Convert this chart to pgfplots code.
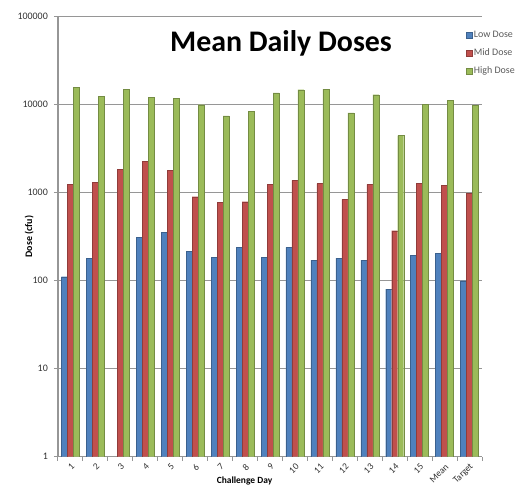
\documentclass[border=0pt]{standalone}
\usepackage{pgfplots}
\pgfplotsset{compat=1.18}
\usepackage{fontspec}
\setmainfont{Carlito}
\definecolor{lowc}{RGB}{79,129,189}
\definecolor{midc}{RGB}{192,80,77}
\definecolor{highc}{RGB}{155,187,89}
\definecolor{gridc}{RGB}{150,150,150}
\definecolor{txtc}{RGB}{50,50,50}
\definecolor{legc}{RGB}{90,90,90}
\begin{document}
\begin{tikzpicture}
\begin{axis}[
  at={(0,0)}, anchor=south west,
  scale only axis, width=424bp, height=440bp,
  ymode=log, ymin=1, ymax=100000,
  xmin=-0.5, xmax=16.5,
  ybar=0pt, bar width=6bp,
  xtick={0,1,2,3,4,5,6,7,8,9,10,11,12,13,14,15,16},
  xticklabels={1,2,3,4,5,6,7,8,9,10,11,12,13,14,15,Mean,Target},
  minor xtick={-0.5,0.5,1.5,2.5,3.5,4.5,5.5,6.5,7.5,8.5,9.5,10.5,11.5,12.5,13.5,14.5,15.5,16.5},
  major x tick style={draw=none},
  minor x tick style={draw=gridc, line width=1bp},
  minor tick length=4bp,
  ytick={1,10,100,1000,10000,100000},
  yticklabels={1,10,100,1000,10000,100000},
  yminorticks=false,
  y tick style={draw=gridc, line width=1bp},
  major tick length=4bp,
  tick align=outside,
  axis x line*=bottom, axis y line*=left,
  axis line style={draw=gridc, line width=1.2bp, -},
  ymajorgrids, grid style={draw=gridc, line width=1.2bp},
  xticklabel style={rotate=45, anchor=east, font=\fontsize{9.5}{10}\selectfont, text=txtc, inner sep=0.5bp, yshift=-5bp, xshift=-1bp},
  yticklabel style={font=\fontsize{10}{11}\selectfont, text=txtc, inner sep=2bp, xshift=-4bp},
  ylabel={\textbf{Dose (cfu)}},
  ylabel style={at={(axis description cs:-0.068,0.5)}, anchor=center, font=\fontsize{10}{11}\selectfont},
  xlabel={\textbf{Challenge Day}},
  xlabel style={at={(axis description cs:0.44,-0.056)}, anchor=center, font=\fontsize{9.5}{10}\selectfont},
  legend style={at={(axis description cs:0.962,0.972)}, anchor=north west, draw=none, fill=none,
    font=\fontsize{10}{11}\selectfont, text=legc, row sep=7bp, inner sep=0pt,
    nodes={inner sep=1.5bp}},
  legend cell align=left,
  legend image code/.code={\fill[#1] (0bp,-3bp) rectangle (6bp,3bp);},
]
\addplot[fill=lowc, draw=lowc!75!black, line width=0.3bp] coordinates {
 (0,111) (1,179) (3,313) (4,357) (5,217) (6,183) (7,241) (8,184) (9,239)
 (10,171) (11,181) (12,171) (13,80) (14,195) (15,203) (16,100)};
\addplot[fill=midc, draw=midc!75!black, line width=0.3bp] coordinates {
 (0,1245) (1,1310) (2,1845) (3,2290) (4,1810) (5,900) (6,778) (7,790) (8,1240)
 (9,1380) (10,1270) (11,840) (12,1240) (13,370) (14,1270) (15,1220) (16,980)};
\addplot[fill=highc, draw=highc!75!black, line width=0.3bp] coordinates {
 (0,15800) (1,12400) (2,15000) (3,12100) (4,11900) (5,10000) (6,7450) (7,8400) (8,13600)
 (9,14800) (10,15000) (11,8100) (12,13000) (13,4450) (14,10100) (15,11200) (16,9800)};
\legend{Low Dose, Mid Dose, High Dose}
\node[font=\bfseries\fontsize{30}{34}\selectfont, anchor=base] at (axis description cs:0.526,0.922) {Mean Daily Doses};
\end{axis}
\pgfresetboundingbox
\path (-58bp,-29.3bp) rectangle (464bp,456.7bp);
\end{tikzpicture}
\end{document}
